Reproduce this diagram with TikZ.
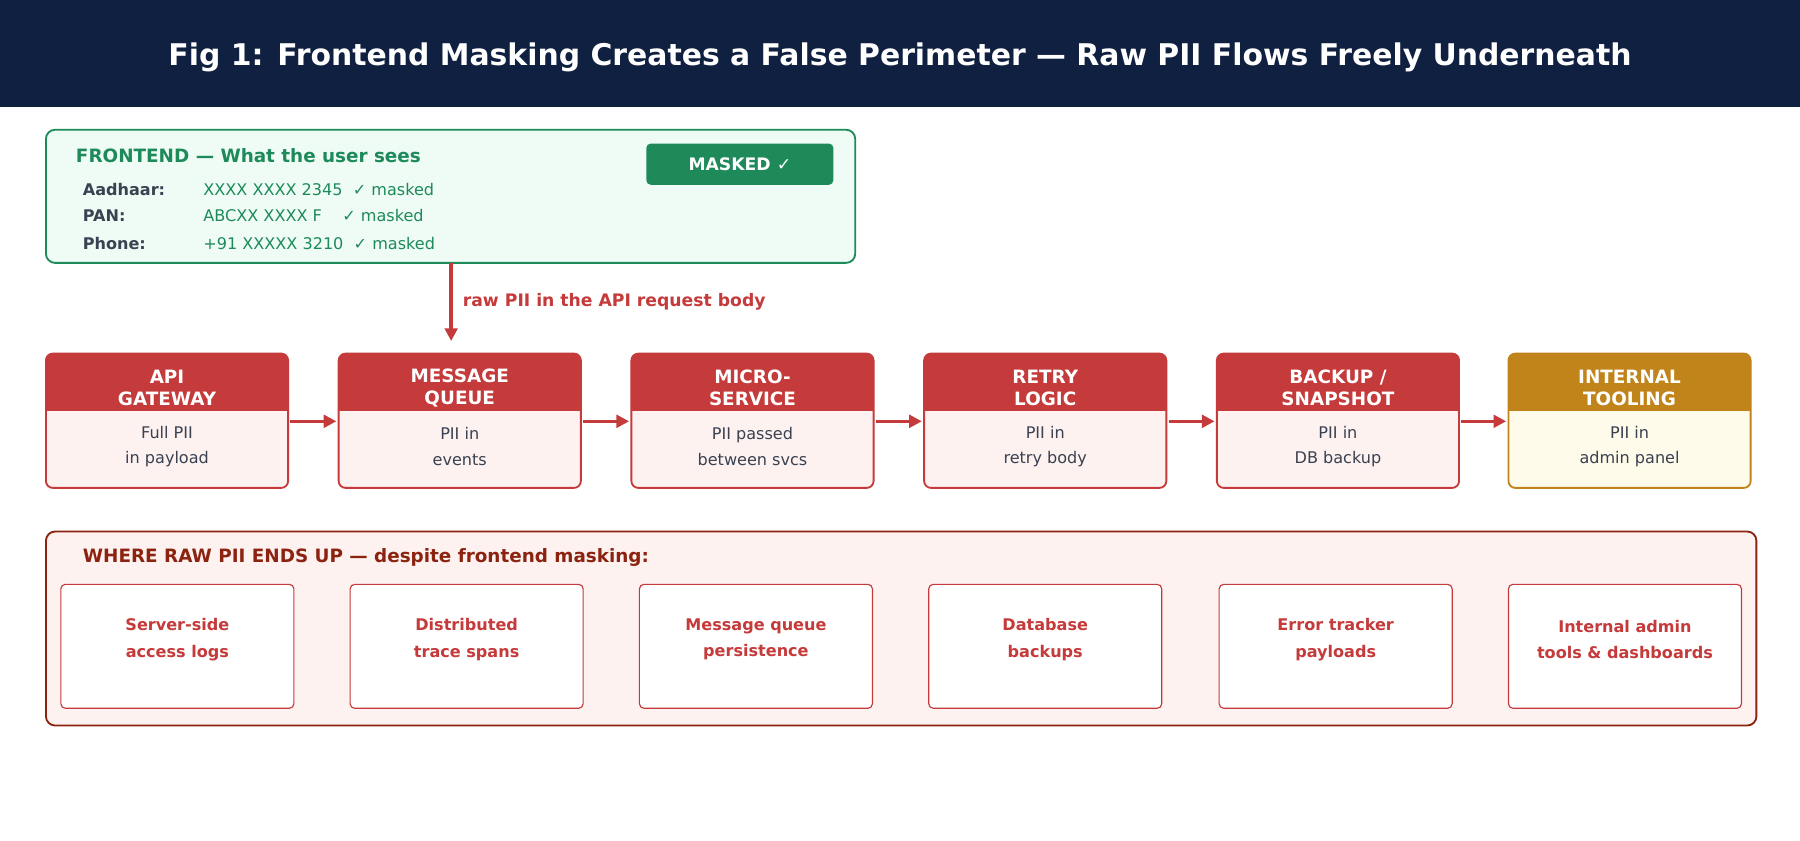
\documentclass[tikz,border=0pt]{standalone}
\usepackage{fontspec}
\setmainfont{DejaVu Sans}
\usetikzlibrary{arrows.meta,positioning}
\definecolor{navy}{HTML}{102040}
\definecolor{mgreen}{HTML}{1E8A5A}
\definecolor{lgreen}{HTML}{EEFCF5}
\definecolor{mred}{HTML}{C53A3A}
\definecolor{lred}{HTML}{FDF2F0}
\definecolor{dred}{HTML}{8B2310}
\definecolor{gold}{HTML}{C0841A}
\definecolor{lgold}{HTML}{FFFBEA}
\definecolor{dgray}{HTML}{3A4150}
\tikzset{
  stage/.style={draw=mred, fill=lred, line width=1.6pt, rounded corners=6pt},
  htext/.style={text=white, font=\fontsize{16}{19}\selectfont\bfseries, align=center},
  btext/.style={text=dgray, font=\fontsize{14}{22}\selectfont, align=center},
  flow/.style={-{Triangle[length=11pt,width=11pt]}, draw=mred, line width=3pt},
  sink/.style={draw=mred, fill=white, line width=1pt, rounded corners=4pt},
  stext/.style={text=mred, font=\fontsize{14}{23}\selectfont\bfseries, align=center},
  lbl/.style={anchor=west, inner sep=0pt, text=dgray, font=\fontsize{14}{16}\selectfont\bfseries},
  val/.style={anchor=west, inner sep=0pt, text=mgreen, font=\fontsize{14}{16}\selectfont}
}
\begin{document}
\begin{tikzpicture}[x=1pt,y=-1pt]
    \useasboundingbox (0,0) rectangle (1568,732);
    \fill[white] (0,0) rectangle (1568,732);
    % title bar
    \fill[navy] (0,0) rectangle (1568,93);
    \node[text=white, font=\fontsize{26}{30}\selectfont\bfseries] (title) at (784,50) {Fig 1: Frontend Masking Creates a False Perimeter — Raw PII Flows Freely Underneath};
    % frontend box
    \draw[draw=mgreen, fill=lgreen, line width=1.6pt, rounded corners=8pt] (40,113) rectangle (745,229);
    \node[anchor=west, inner sep=0pt, text=mgreen, font=\fontsize{16}{18}\selectfont\bfseries] (fhead) at (66,136) {FRONTEND — What the user sees};
    \node[fill=mgreen, rounded corners=4pt, minimum width=163pt, minimum height=36pt, text=white, font=\fontsize{15}{17}\selectfont\bfseries] (badge) at (644.5,143) {MASKED ✓};
    \node[lbl] (l1) at (72,165) {Aadhaar:};
    \node[lbl] (l2) at (72,188) {PAN:};
    \node[lbl] (l3) at (72,212) {Phone:};
    \node[val] (v1) at (177,165) {XXXX XXXX 2345\ \ ✓ masked};
    \node[val] (v2) at (177,188) {ABCXX XXXX F\ \ \ \ ✓ masked};
    \node[val] (v3) at (177,212) {+91 XXXXX 3210\ \ ✓ masked};
    \coordinate (fout) at (393,229);
    \coordinate (qin) at (393,297);
    \draw[flow] (fout) -- (qin);
    \node[anchor=west, inner sep=0pt, text=mred, font=\fontsize{15}{17}\selectfont\bfseries] (req) at (403,263) {raw PII in the API request body};
    % pipeline stages
    \foreach \i/\x/\h/\b/\c/\l in {1/40/{API\\GATEWAY}/{Full PII\\in payload}/mred/lred,
        2/295/{MESSAGE\\QUEUE}/{PII in\\events}/mred/lred,
        3/550/{MICRO-\\SERVICE}/{PII passed\\between svcs}/mred/lred,
        4/805/{RETRY\\LOGIC}/{PII in\\retry body}/mred/lred,
        5/1060/{BACKUP /\\SNAPSHOT}/{PII in\\DB backup}/mred/lred,
        6/1314/{INTERNAL\\TOOLING}/{PII in\\admin panel}/gold/lgold} {
      \begin{scope}
        \clip[rounded corners=6pt] (\x,308) rectangle (\x+211,425);
        \fill[\l] (\x,308) rectangle (\x+211,425);
        \fill[\c] (\x,308) rectangle (\x+211,358);
      \end{scope}
      \draw[draw=\c, line width=1.6pt, rounded corners=6pt] (\x,308) rectangle (\x+211,425);
      \node[htext] (h\i) at (\x+105.5,338) {\h};
      \node[btext] (b\i) at (\x+105.5,389) {\b};
      \coordinate (sl\i) at (\x-2,367);
      \coordinate (sr\i) at (\x+213,367);
    }
    \foreach \a/\b in {1/2,2/3,3/4,4/5,5/6}
      \draw[flow] (sr\a) -- (sl\b);
    % where PII ends up
    \draw[draw=dred, fill=lred, line width=1.6pt, rounded corners=8pt] (40,463) rectangle (1530,632);
    \node[anchor=west, inner sep=0pt, text=dred, font=\fontsize{16}{18}\selectfont\bfseries] (whead) at (72,486) {WHERE RAW PII ENDS UP — despite frontend masking:};
    \foreach \i/\x/\t in {1/53/{Server-side\\access logs}, 2/305/{Distributed\\trace spans},
        3/557/{Message queue\\persistence}, 4/809/{Database\\backups},
        5/1062/{Error tracker\\payloads}, 6/1314/{Internal admin\\tools \& dashboards}} {
      \draw[sink] (\x,509) rectangle (\x+203,617);
      \node[stext] (s\i) at (\x+101.5,557) {\t};
    }
\end{tikzpicture}
\end{document}
